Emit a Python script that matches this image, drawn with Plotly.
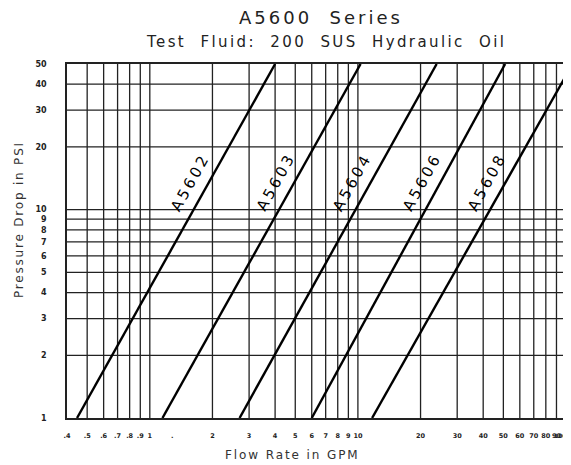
import math
import plotly.graph_objects as go

# ---- data ----
series_names = ["A5602", "A5603", "A5604", "A5606", "A5608"]
flow_start = [0.447, 1.15, 2.70, 6.0, 11.7]     # GPM at 1 psi
dp_start = [1, 1, 1, 1, 1]
flow_end = [4.0, 10.3, 23.9, 51.0, 100.0]      # GPM at end of line
dp_end = [50, 50, 50, 50, 44]

x_tickvals = [0.4, 0.5, 0.6, 0.7, 0.8, 0.9, 1, 1.28, 2, 3, 4, 5, 6, 7, 8, 9, 10,
              20, 30, 40, 50, 60, 70, 80, 90]
x_ticktext = [".4", ".5", ".6", ".7", ".8", ".9", "1", ".", "2", "3", "4", "5", "6",
              "7", "8", "9", "10", "20", "30", "40", "50", "60", "70", "80", "90"]
x_last_tick = 100
x_last_text = "100"
x_gridvals = [0.5, 0.6, 0.7, 0.8, 0.9, 1, 2, 3, 4, 5, 6, 7, 8, 9, 10,
              20, 30, 40, 50, 60, 70, 80, 90]
y_tickvals = [1, 2, 3, 4, 5, 6, 7, 8, 9, 10, 20, 30, 40, 50]
y_ticktext = ["1", "2", "3", "4", "5", "6", "7", "8", "9", "10", "20", "30", "40", "50"]

label_dp = 13.5   # pressure level at which the line labels sit

# the page body has an 8px margin, so the figure is drawn 8px right/down
W, H = 563, 457
PL, PT, PR, PB = 59, 56, 5, 47          # plot area 67..566 x 64..418 in page
PH = H - PT - PB


def spaced(txt, px):
    return '<span style="letter-spacing:%spx">%s</span>' % (px, txt)


fig = go.Figure()

for name, q0, p0, q1, p1 in zip(series_names, flow_start, dp_start, flow_end, dp_end):
    fig.add_trace(go.Scatter(
        x=[q0, q1], y=[p0, p1], mode="lines", name=name,
        line=dict(color="black", width=2.4), showlegend=False, hoverinfo="skip"))
    # label position along the line (log-log interpolation)
    t = (math.log10(label_dp) - math.log10(p0)) / (math.log10(p1) - math.log10(p0))
    lq = math.log10(q0) + t * (math.log10(q1) - math.log10(q0))
    fig.add_annotation(
        x=lq, y=math.log10(label_dp), xref="x", yref="y", text=spaced(name, 3),
        showarrow=False, textangle=-61, xshift=-18, xanchor="center", yanchor="middle",
        font=dict(family="DejaVu Sans", size=15, color="black"))

# grid lines drawn as shapes so each value gets a line
for v in x_gridvals:
    fig.add_shape(type="line", xref="x", yref="paper", x0=v, x1=v, y0=0, y1=1,
                  line=dict(color="#222", width=1.3), layer="below")
for v in y_tickvals[1:-1]:
    fig.add_shape(type="line", xref="paper", yref="y", x0=0, x1=1, y0=v, y1=v,
                  line=dict(color="#222", width=1.3), layer="below")

x_tick_font = dict(family="DejaVu Sans", size=6.5, color="#222", weight="bold")
y_tick_font = dict(family="DejaVu Sans", size=8, color="#222", weight="bold")

fig.update_xaxes(
    type="log", range=[math.log10(0.4), math.log10(100)],
    tickmode="array", tickvals=x_tickvals, ticktext=x_ticktext, tickangle=0,
    showgrid=False, zeroline=False, showline=True, linecolor="#222", linewidth=1.5,
    mirror=True, ticks="", tickfont=x_tick_font, ticklabelstandoff=10,
    automargin=False, fixedrange=True)
fig.update_yaxes(
    type="log", range=[0, math.log10(50)],
    tickmode="array", tickvals=y_tickvals, ticktext=y_ticktext, tickangle=0,
    showgrid=False, zeroline=False, showline=True, linecolor="#222", linewidth=1.5,
    mirror=True, ticks="", tickfont=y_tick_font, ticklabelstandoff=17,
    automargin=False, fixedrange=True)

# last x tick label sits at the right edge; anchor it to the right so it stays visible
fig.add_annotation(x=math.log10(x_last_tick), y=0, xref="x", yref="paper",
                   text=x_last_text, showarrow=False, xanchor="right", yanchor="middle",
                   xshift=3, yshift=-17,
                   font=dict(family="DejaVu Sans", size=6, color="#222", weight="bold"))

NB = "\u00a0"
fig.add_annotation(text=spaced("A5600" + NB * 2 + "Series", 3), xref="paper", yref="paper",
                   x=0.51, y=1.0 + 46 / PH, showarrow=False,
                   xanchor="center", yanchor="middle",
                   font=dict(family="DejaVu Sans", size=18, color="#222"))
fig.add_annotation(text=spaced("Test" + NB * 2 + "Fluid:" + NB * 2 + "200" + NB * 2 + "SUS" +
                               NB * 2 + "Hydraulic" + NB * 2 + "Oil", 2.4),
                   xref="paper", yref="paper", x=0.52, y=1.0 + 22 / PH,
                   showarrow=False, xanchor="center", yanchor="middle",
                   font=dict(family="DejaVu Sans", size=15, color="#222"))
fig.add_annotation(text=spaced("Pressure" + NB + "Drop" + NB + "in" + NB + "PSI", 1.8),
                   xref="paper", yref="paper", x=(19 - 67) / 499, y=(418 - 220) / PH,
                   textangle=-90, showarrow=False, xanchor="center", yanchor="middle",
                   font=dict(family="DejaVu Sans", size=12, color="#333"))
fig.add_annotation(text=spaced("Flow" + NB + "Rate" + NB + "in" + NB + "GPM", 1.9),
                   xref="paper", yref="paper", x=(292 - 67) / 499, y=-(455 - 418) / PH,
                   showarrow=False, xanchor="center", yanchor="middle",
                   font=dict(family="DejaVu Sans", size=12, color="#333"))

fig.update_layout(
    width=W, height=H,
    margin=dict(l=PL, r=PR, t=PT, b=PB),
    paper_bgcolor="white", plot_bgcolor="white",
    showlegend=False,
)

fig.write_html("out.html")
